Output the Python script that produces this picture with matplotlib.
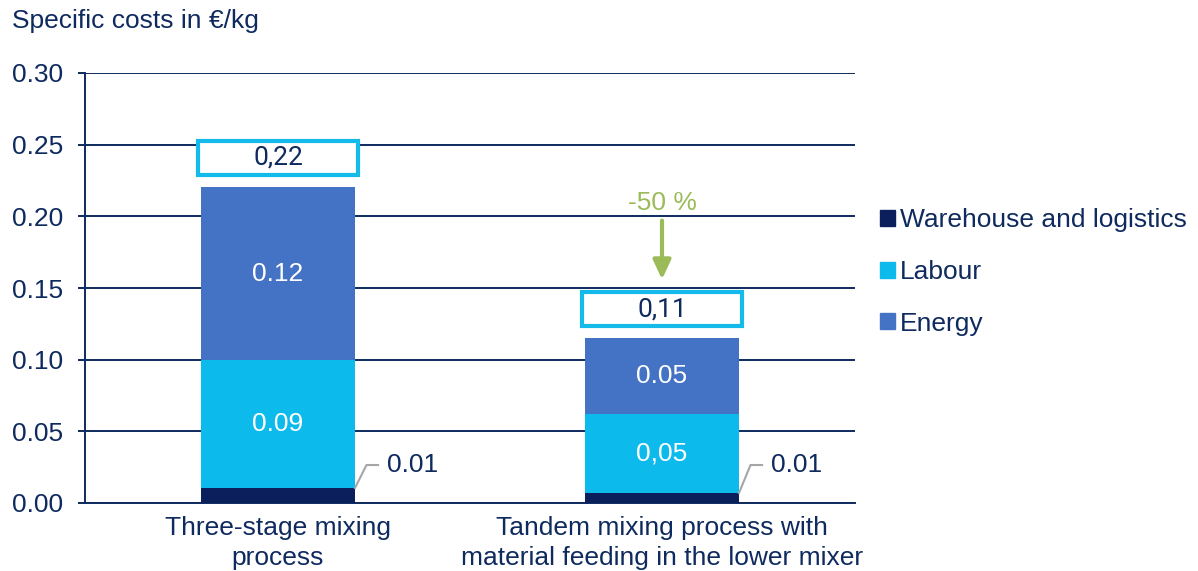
import matplotlib
matplotlib.use("Agg")
import matplotlib.pyplot as plt
from matplotlib.patches import Patch, Rectangle

plt.rcParams['font.family'] = ['Liberation Sans', 'DejaVu Sans']

# costs per process in €/kg
processes = ["Three-stage mixing\nprocess",
             "Tandem mixing process with\nmaterial feeding in the lower mixer"]
warehouse = [0.0105, 0.007]
labour = [0.089, 0.0549]
energy = [0.121, 0.053]
labour_sep = [".", ","]      # decimal separator used in the labour labels
reduction = "-50 %"

navy = "#0E2A5E"
c_wh = "#0A1F5C"
c_lab = "#0DBAEC"
c_en = "#4472C4"
green = "#9BBB59"
box_col = "#14BBEA"
grey = "#A6A6A6"

W, H = 1198, 571
fig = plt.figure(figsize=(W / 100, H / 100), dpi=100)
ax = fig.add_axes([85 / W, 68 / H, 770 / W, 430 / H])

x = list(range(len(processes)))
bw = 0.401
totals = [a + b + c for a, b, c in zip(warehouse, labour, energy)]
bot2 = [a + b for a, b in zip(warehouse, labour)]

ax.bar(x, warehouse, bw, color=c_wh, zorder=3, label="Warehouse and logistics")
ax.bar(x, labour, bw, bottom=warehouse, color=c_lab, zorder=3, label="Labour")
ax.bar(x, energy, bw, bottom=bot2, color=c_en, zorder=3, label="Energy")

ax.set_xlim(-0.5026, 1.5026)
ax.set_ylim(0, 0.30)
ax.set_yticks([0, 0.05, 0.10, 0.15, 0.20, 0.25, 0.30])
ax.set_yticklabels([f"{v:.2f}" for v in ax.get_yticks()])
ax.yaxis.grid(True, color=navy, lw=1.4)
ax.set_axisbelow(True)
for s in ["top", "right"]:
    ax.spines[s].set_visible(False)
for s in ["left", "bottom"]:
    ax.spines[s].set_color(navy)
    ax.spines[s].set_linewidth(1.4)
ax.tick_params(axis="y", colors=navy, labelsize=19, length=5, width=1.4, pad=11)
ax.set_xticks(x)
ax.set_xticklabels(processes, linespacing=1.32)
ax.tick_params(axis="x", colors=navy, labelsize=19, length=0, pad=9)

fig.text(12 / W, 1 - 21 / H, "Specific costs in €/kg", color=navy, fontsize=19, va="center")

# segment labels
for i in x:
    ax.text(i, warehouse[i] + labour[i] / 2,
            f"{labour[i]:.2f}".replace(".", labour_sep[i]),
            color="white", fontsize=19, ha="center", va="center", zorder=4)
    ax.text(i, bot2[i] + energy[i] / 2, f"{energy[i]:.2f}",
            color="white", fontsize=19, ha="center", va="center", zorder=4)

    # leader line for the small warehouse share
    xe = i + bw / 2
    ax.plot([xe, xe + 0.030, xe + 0.060], [warehouse[i], 0.0265, 0.0265],
            color=grey, lw=1.5, zorder=4, clip_on=False)
    ax.text(xe + 0.083, 0.0265, f"{warehouse[i]:.2f}", color=navy,
            fontsize=19, ha="left", va="center")

    # boxed total
    bx_w, bx_h = 0.415, 0.0237
    y0 = totals[i] + 0.0085
    ax.add_patch(Rectangle((i - bx_w / 2, y0), bx_w, bx_h, facecolor="white",
                           edgecolor=box_col, lw=3, zorder=5))
    ax.text(i, y0 + bx_h / 2, f"{totals[i]:.2f}".replace(".", ","),
            color=navy, fontsize=19, family="Roboto",
            ha="center", va="center", zorder=6)

# reduction arrow
ax.annotate("", xy=(1, 0.156), xytext=(1, 0.197),
            arrowprops=dict(arrowstyle="-|>,head_length=0.58,head_width=0.27",
                            mutation_scale=20, color=green, lw=3,
                            shrinkA=0, shrinkB=0), zorder=6)
ax.text(1, 0.2095, reduction, color=green, fontsize=19, ha="center", va="center")

handles = [Patch(color=c_wh, label="Warehouse and logistics"),
           Patch(color=c_lab, label="Labour"),
           Patch(color=c_en, label="Energy")]
leg = fig.legend(handles=handles, loc="center left",
                 bbox_to_anchor=(880 / W, 1 - 272 / H), frameon=False,
                 fontsize=19, handlelength=0.55, handleheight=0.55,
                 handletextpad=0.22, labelspacing=1.05,
                 borderpad=0, borderaxespad=0)
for t in leg.get_texts():
    t.set_color(navy)

fig.savefig("out.png", dpi=100)
